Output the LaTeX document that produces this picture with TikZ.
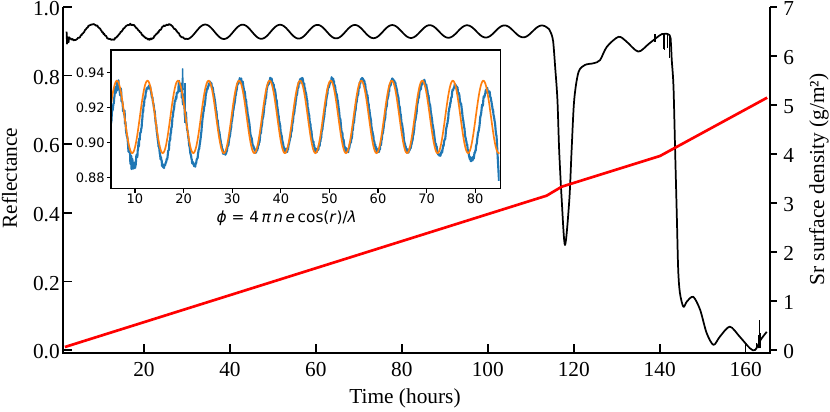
\documentclass[tikz,border=0pt]{standalone}
\usepackage{fontspec}
\setmainfont{Liberation Serif}
\newfontfamily\dejavu{DejaVu Sans}
\definecolor{tabblue}{HTML}{1F77B4}
\definecolor{taborange}{HTML}{FF7F0E}

\begin{document}
\begin{tikzpicture}[x=0.75pt,y=0.75pt,
  spine/.style = {line width=1.4pt},
  tck/.style = {line width=1.2pt},
  lbl/.style = {font=\fontsize{16}{19}\selectfont, inner sep=0pt},
  ilbl/.style = {font=\dejavu\fontsize{9.75}{12}\selectfont, inner sep=0pt},
  refl/.style = {line width=1.3pt, line join=round},
  srline/.style = {red, line width=2pt},
  meas/.style = {tabblue, line width=1.6pt, line join=round},
  fit/.style = {taborange, line width=1.25pt}]
\useasboundingbox (0,0) rectangle (830,411);
\pgfmathsetseed{17}

% axes of the main plot
\draw[spine] (63,404) -- (63,58.3) -- (770,58.3) -- (770,404);
\foreach \t in {20,40,...,160} {
  \draw[tck] ({58+4.298*\t},58.3) -- ++(0,9);
  \node[lbl] (xt\t) at ({58+4.298*\t},41) {\t};
}
\foreach \r/\txt [count=\i] in {0/0.0,0.2/0.2,0.4/0.4,0.6/0.6,0.8/0.8,1/1.0} {
  \draw[tck] (63,{61+343*\r}) -- ++(9,0);
  \node[lbl, anchor=east] (yl\i) at (60,{59.2+343*\r}) {\txt};
}
\foreach \s in {0,...,7} {
  \draw[tck] (770,{61+49*\s}) -- ++(7,0);
  \node[lbl, anchor=west] (yr\s) at (783,{59.2+49*\s}) {\s};
}
\node[lbl, rotate=90] (ylab) at (9.5,233) {Reflectance};
\node[lbl, rotate=90] (srlab) at (819,231.5) {Sr surface density (g/m²)};
\node[lbl] (tlab) at (405,13) {Time (hours)};

% reflectance
\begin{scope}[shift={(58,61)}, x=3.2235pt, y=257.25pt]
  \draw[refl] (2.0,0.928) -- (2.1,0.893) -- (2.3,0.912) -- (2.45,0.897) -- (2.6,0.912)
    -- plot[domain=2.6:114.3, samples=700]
       (\x, {0.927+0.002*\x/114+(0.023-0.006*\x/114)*cos((0.7218*(\x-8.14)) r)+0.002*rand*(\x<30)})
    -- plot[smooth, tension=0.5] coordinates {(114.7,0.924) (115.2,0.900) (115.7,0.82)
       (116.2,0.729) (116.6,0.583) (117.2,0.437) (117.96,0.306) (118.96,0.437) (119.5,0.583)
       (120.1,0.729) (121.1,0.810) (122.6,0.831) (124.6,0.836) (126.1,0.845) (127.7,0.884)
       (130.4,0.913) (132.2,0.900) (135,0.870) (137.5,0.893) (140.5,0.921) (142.3,0.918)
       (142.6,0.895) (142.8,0.845) (143.2,0.768) (143.6,0.573) (144.0,0.379) (144.3,0.233)
       (144.7,0.166) (145.5,0.126) (146.3,0.141) (147.8,0.155) (149.4,0.117) (150.9,0.050)
       (152.5,0.015) (154.0,0.039) (156.3,0.068) (158.6,0.039) (161.0,0.005) (162.2,0.0)
       (163.5,0.03) (164.9,0.053)};
  \foreach \t/\r in {138.9/0.899,140.8/0.879,141.2/0.875,141.7/0.88,142.3/0.85}
    \draw[refl, line width=0.8pt] (\t,0.92) -- (\t,\r);
  \foreach \t/\r in {162.6/0.02,162.9/0.03,163.1/0.045,163.3/0.087,163.5/0.05}
    \draw[refl, line width=0.8pt] (\t,0.005) -- (\t,\r);
\end{scope}

% Sr surface density
\begin{scope}[shift={(58,61)}, x=3.2235pt, y=36.75pt]
  \draw[srline] (1.6,0.061) -- (113.7,3.15) -- (117.2,3.333) -- (140.07,3.96) -- (165,5.15);
\end{scope}

% inset
\fill[white] (111,222.7) rectangle (500.7,361);
\begin{scope}[shift={(86.4,-1306.3)}, x=3.645pt, y=1312.5pt]
  \clip (5,0.874) rectangle (85,0.9527);
  \draw[meas] plot[domain=5:84.4, samples=1000]
    (\x, {0.9155-0.0065*max(0,min(1,(30-\x)/8))-0.007*max(0,(\x-66)/19)
      +(0.0205+0.0025*max(0,min(1,(30-\x)/8)))*cos((\x-0.25-0.04*max(0,\x-68)) r)
      +0.0013*rand+0.003*rand*(\x<12)+0.004*rand*(\x>18.5)*(\x<20.5)})
    -- (84.9,0.878);
  \draw[meas, line width=1pt] (19.7,0.930) -- (19.8,0.942) -- (19.9,0.930);
  \draw[meas, line width=1pt] (20.3,0.934) -- (20.3,0.911);
  \draw[fit] plot[domain=5:85, samples=500] (\x, {0.9145+0.0207*cos(\x r)});
\end{scope}
\draw[line width=0.8pt] (111,222.7) rectangle (500.7,361);
\foreach \p in {10,20,...,80} {
  \draw[line width=0.8pt] ({86.4+4.86*\p},222.7) -- ++(0,-4.5);
  \node[ilbl] (ix\p) at ({86.4+4.86*\p},212.7) {\p};
}
\foreach \yy/\txt [count=\i] in {233.7/0.88,268.7/0.90,303.7/0.92,338.7/0.94} {
  \draw[line width=0.8pt] (111,\yy) -- ++(-4.5,0);
  \node[ilbl, anchor=east] (iy\i) at (105,\yy) {\txt};
}
\node[font=\dejavu\fontsize{11.5}{14}\selectfont, inner sep=0pt] (philab) at (286.7,193)
  {\textit{ϕ} = 4\,\textit{π\,n\,e}\,cos(\textit{r})/\textit{λ}};
\end{tikzpicture}
\end{document}
